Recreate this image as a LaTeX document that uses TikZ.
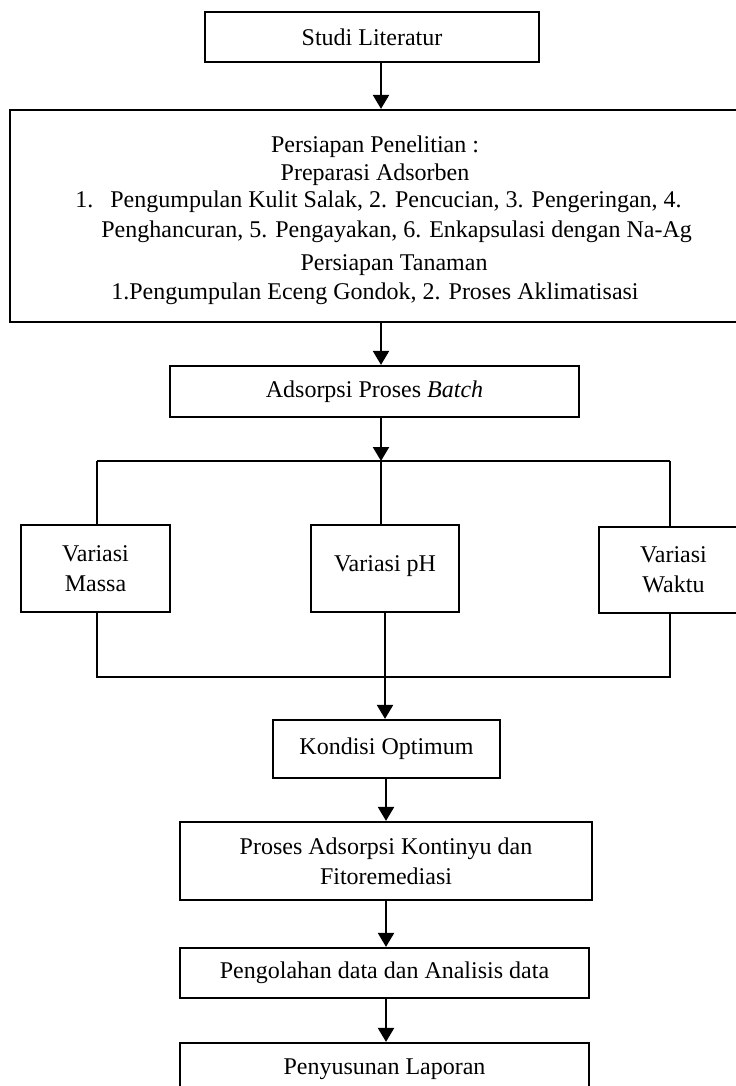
\documentclass[tikz,border=0pt]{standalone}
\usepackage{fontspec}
\setmainfont{Liberation Serif}
\usetikzlibrary{arrows.meta}
\begin{document}
\begin{tikzpicture}[x=0.5pt,y=-0.5pt,
  box/.style={draw,line width=1.1pt,inner sep=0pt,align=center,font=\fontsize{12}{15}\selectfont},
  txt/.style={inner sep=0pt,anchor=base,font=\fontsize{12}{15}\selectfont},
  arr/.style={line width=1.1pt,-{Triangle[length=7pt,width=8pt]}},
  ln/.style={line width=1.1pt}]
\useasboundingbox (0,0) rectangle (735,1086);
% column coordinates
\coordinate (c1) at (381,0);
\coordinate (c2) at (386,0);
\coordinate (jl) at (97,461);
\coordinate (jm) at (381,461);
\coordinate (jr) at (670,461);
\coordinate (bl) at (97,677);
\coordinate (br) at (670,677);
% boxes
\node[box,minimum width=167pt,minimum height=25pt] (studi) at (372,37) {Studi Literatur};
\node[box,minimum width=368pt,minimum height=106pt] (prep) at (378,216) {};
\node[txt] (p1) at (375,152) {Persiapan Penelitian :};
\node[txt] (p2) at (375,180) {Preparasi Adsorben};
\node[txt,anchor=base west] (p3a) at (75,207) {1.};
\node[txt,anchor=base west] (p3b) at (110,207) {Pengumpulan Kulit Salak, 2. Pencucian, 3. Pengeringan, 4.};
\node[txt,anchor=base west] (p4) at (101,237) {Penghancuran, 5. Pengayakan, 6. Enkapsulasi dengan Na-Ag};
\node[txt] (p5) at (394,270) {Persiapan Tanaman};
\node[txt] (p6) at (375,299) {1.Pengumpulan Eceng Gondok, 2. Proses Aklimatisasi};
\node[box,minimum width=204.5pt,minimum height=25.5pt] (batch) at (374.5,391.5) {Adsorpsi Proses \textit{Batch}};
\node[box,minimum width=74.5pt,minimum height=43.5pt] (massa) at (95.5,568.5) {Variasi\\Massa};
\node[box,minimum width=74pt,minimum height=43.5pt] (ph) at (385,568.5) {\raisebox{4.5pt}{Variasi pH}};
\node[box,minimum width=74.5pt,minimum height=43pt] (waktu) at (673.5,570) {Variasi\\Waktu};
\node[box,minimum width=113.5pt,minimum height=29pt] (kondisi) at (386.5,749) {Kondisi Optimum};
\node[box,minimum width=206pt,minimum height=39pt] (proses) at (386,861) {Proses Adsorpsi Kontinyu dan\\Fitoremediasi};
\node[box,minimum width=204.5pt,minimum height=25pt] (olah) at (384.5,973) {Pengolahan data dan Analisis data};
\node[box,minimum width=204.5pt,minimum height=26pt] (lapor) at (384.5,1069) {Penyusunan Laporan};
% connectors
\draw[arr] (studi.south -| c1) -- (prep.north -| c1);
\draw[arr] (prep.south -| c1) -- (batch.north -| c1);
\draw[arr] (batch.south -| c1) -- (jm);
\draw[ln] (jl) -- (jr);
\draw[ln] (jl) -- (massa.north -| jl);
\draw[ln] (jm) -- (ph.north -| jm);
\draw[ln] (jr) -- (waktu.north -| jr);
\draw[ln] (massa.south -| bl) -- (bl) -- (br) -- (waktu.south -| br);
\draw[arr] (ph.south) -- (kondisi.north -| ph.south);
\draw[arr] (kondisi.south -| c2) -- (proses.north -| c2);
\draw[arr] (proses.south -| c2) -- (olah.north -| c2);
\draw[arr] (olah.south -| c2) -- (lapor.north -| c2);
\end{tikzpicture}
\end{document}
